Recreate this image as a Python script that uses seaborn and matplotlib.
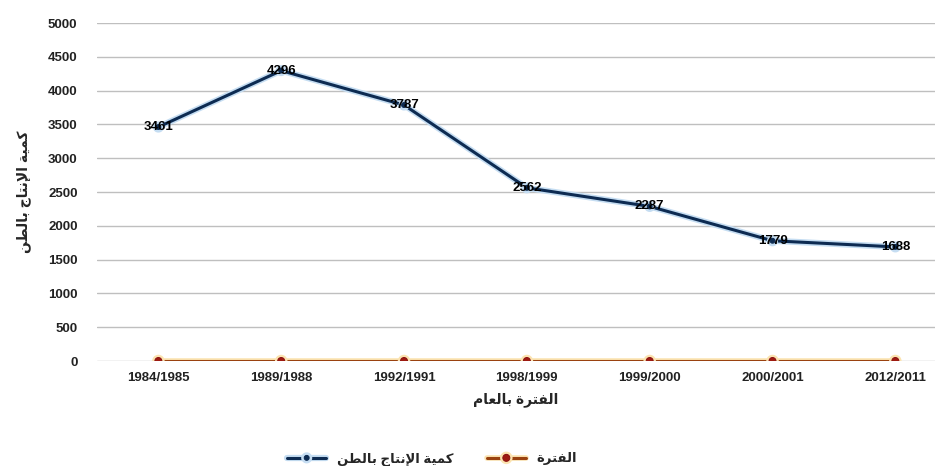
import matplotlib
matplotlib.use("Agg")
import matplotlib.pyplot as plt
import matplotlib.patheffects as pe
import seaborn as sns
import pandas as pd

# ---- data ----
periods = ["1984/1985", "1989/1988", "1992/1991", "1998/1999", "1999/2000", "2000/2001", "2012/2011"]
production = [3461, 4296, 3787, 2562, 2287, 1779, 1688]
period_series = [0, 0, 0, 0, 0, 0, 0]
label_prod = "كمية الإنتاج بالطن"
label_period = "الفترة"
xlabel_txt = "الفترة بالعام"
ylabel_txt = "كمية الإنتاج بالطن"
yticks = list(range(0, 5001, 500))

# ---- minimal Arabic shaping (matplotlib has no bidi/shaping) ----
FORMS = {  # isolated, final, initial, medial
    "ا": ("\uFE8D", "\uFE8E", None, None),
    "إ": ("\uFE87", "\uFE88", None, None),
    "ب": ("\uFE8F", "\uFE90", "\uFE91", "\uFE92"),
    "ة": ("\uFE93", "\uFE94", None, None),
    "ت": ("\uFE95", "\uFE96", "\uFE97", "\uFE98"),
    "ج": ("\uFE9D", "\uFE9E", "\uFE9F", "\uFEA0"),
    "ر": ("\uFEAD", "\uFEAE", None, None),
    "ط": ("\uFEC1", "\uFEC2", "\uFEC3", "\uFEC4"),
    "ع": ("\uFEC9", "\uFECA", "\uFECB", "\uFECC"),
    "ف": ("\uFED1", "\uFED2", "\uFED3", "\uFED4"),
    "ك": ("\uFED9", "\uFEDA", "\uFEDB", "\uFEDC"),
    "ل": ("\uFEDD", "\uFEDE", "\uFEDF", "\uFEE0"),
    "م": ("\uFEE1", "\uFEE2", "\uFEE3", "\uFEE4"),
    "ن": ("\uFEE5", "\uFEE6", "\uFEE7", "\uFEE8"),
    "ي": ("\uFEF1", "\uFEF2", "\uFEF3", "\uFEF4"),
}
LAM_ALEF = {"ا": ("\uFEFB", "\uFEFC"), "إ": ("\uFEF9", "\uFEFA")}


def joins_next(ch):
    return ch in FORMS and FORMS[ch][2] is not None


def shape(text):
    out = []
    chars = list(text)
    i = 0
    n = len(chars)
    while i < n:
        c = chars[i]
        if c not in FORMS:
            out.append(c)
            i += 1
            continue
        prev_join = i > 0 and joins_next(chars[i - 1])
        if c == "ل" and i + 1 < n and chars[i + 1] in LAM_ALEF:
            iso, fin = LAM_ALEF[chars[i + 1]]
            out.append(fin if prev_join else iso)
            i += 2
            continue
        nxt = chars[i + 1] if i + 1 < n else None
        next_join = nxt in FORMS and joins_next(c)
        iso, fin, ini, med = FORMS[c]
        if prev_join and next_join:
            out.append(med)
        elif prev_join:
            out.append(fin)
        elif next_join:
            out.append(ini)
        else:
            out.append(iso)
        i += 1
    return "".join(out)[::-1]


sns.set_theme(style="white")
plt.rcParams["font.family"] = ["Liberation Sans", "DejaVu Sans"]

df = pd.DataFrame({"period": periods, "production": production, "zero": period_series})

fig = plt.figure(figsize=(9.46, 4.66), dpi=100)
ax = fig.add_axes([0.1025, 0.2253, 0.8855, 0.7253])

glow_blue = [pe.Stroke(linewidth=4.5, foreground="#C5DDF2"), pe.Normal()]
glow_orange = [pe.Stroke(linewidth=4, foreground="#FBE3B0"), pe.Normal()]

sns.lineplot(data=df, x="period", y="production", ax=ax, color="#0D2B52", linewidth=2.2,
             marker="o", markersize=3.5, markeredgecolor="#0D2B52", markerfacecolor="#0D2B52",
             label=shape(label_prod), sort=False, path_effects=glow_blue)
sns.lineplot(data=df, x="period", y="zero", ax=ax, color="#9A4210", linewidth=2.2,
             marker="o", markersize=5, markeredgecolor="#8B1010", markerfacecolor="#9E1A10",
             label=shape(label_period), sort=False, path_effects=glow_orange)

for i, v in enumerate(production):
    ax.text(i, v, str(v), ha="center", va="center", fontsize=9.5, fontweight="bold", color="black")

ax.set_ylim(0, 5000)
ax.set_xlim(-0.5, 6.32)
ax.set_yticks(yticks)
ax.set_yticklabels([str(t) for t in yticks], fontsize=9.5, fontweight="bold", color="#222222")
ax.set_xticks(range(len(periods)))
ax.set_xticklabels(periods, fontsize=9.5, fontweight="bold", color="#222222")
ax.tick_params(axis="y", length=0, pad=14)
ax.tick_params(axis="x", length=0, pad=8)
ax.yaxis.grid(True, color="#BFBFBF", linewidth=1)
ax.xaxis.grid(False)
for s in ax.spines.values():
    s.set_visible(False)

ax.set_xlabel(shape(xlabel_txt), fontsize=10, fontweight="bold", labelpad=6)
ax.set_ylabel(shape(ylabel_txt), fontsize=10, fontweight="bold", labelpad=12)

ax.legend(loc="upper center", bbox_to_anchor=(0.40, -0.255), ncol=2, frameon=False,
          handlelength=3, columnspacing=2.5, borderaxespad=0,
          prop={"size": 9.5, "weight": "bold"})

fig.savefig("out.png", dpi=100)
